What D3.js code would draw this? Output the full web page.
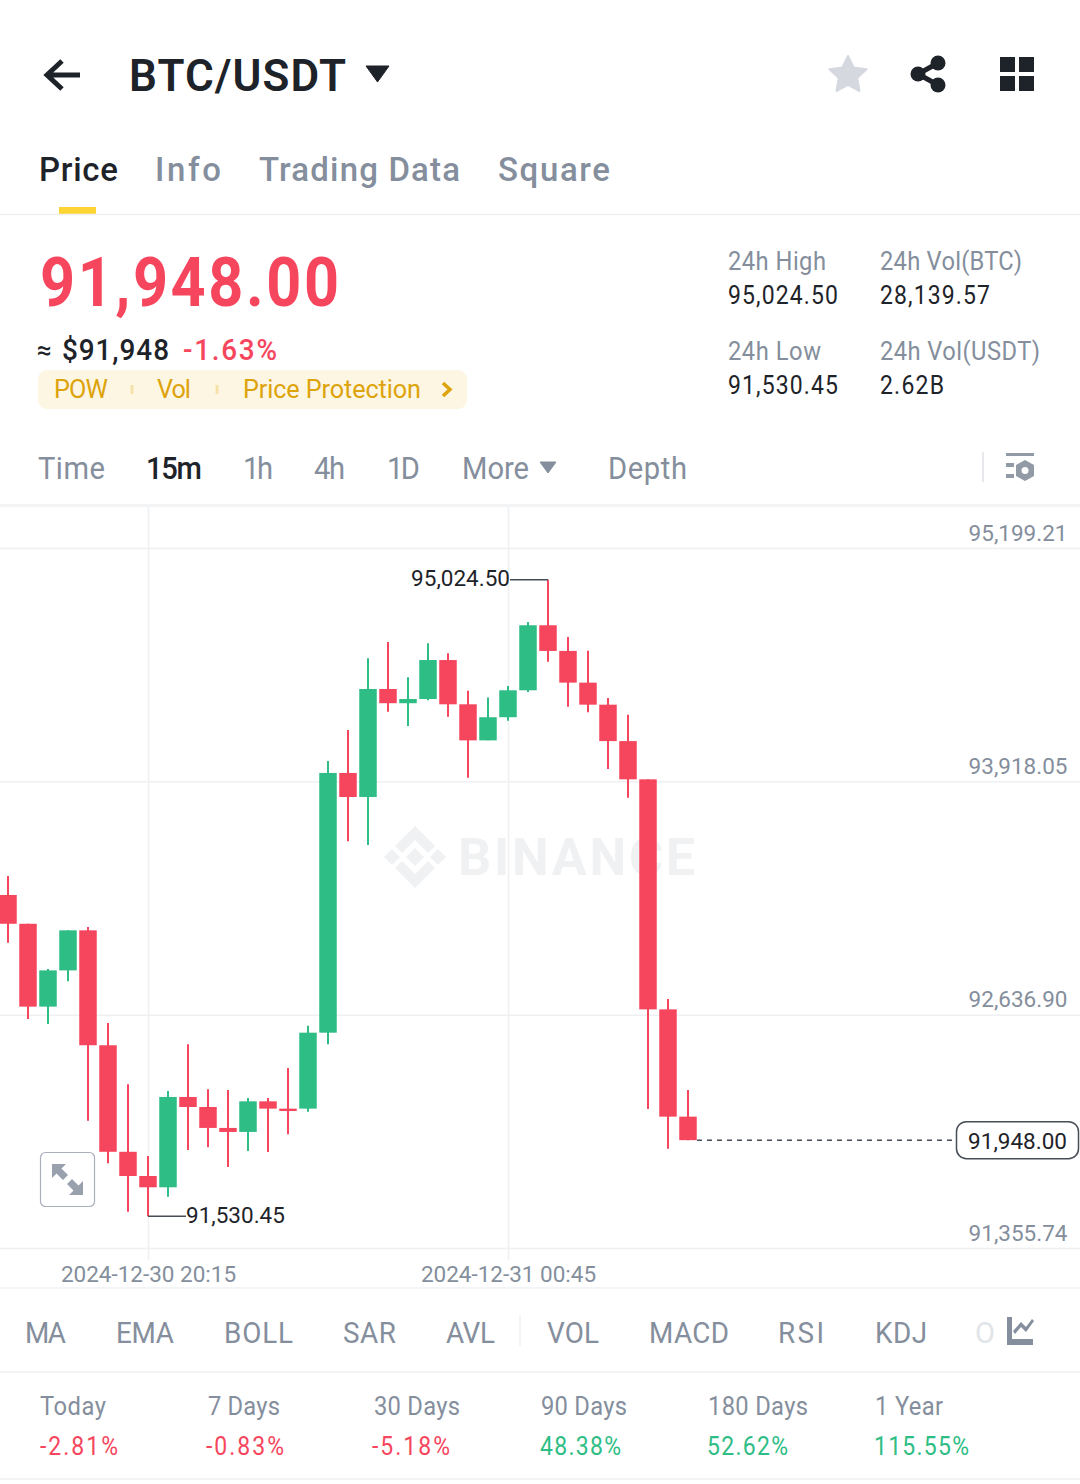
<!DOCTYPE html>
<html>
<head>
<meta charset="utf-8">
<title>BTC/USDT</title>
<script src="https://cdn.jsdelivr.net/npm/d3@7"></script>
<style>
  html, body { margin: 0; padding: 0; background: #fff; }
  svg { display: block; font-family: Roboto, "Noto Sans", sans-serif; }
</style>
</head>
<body>
<div id="chart"></div>
<script>
// 15m candles, first one opens 2024-12-30 18:30
const firstCandle = new Date(2024, 11, 30, 18, 30);
const candleOpen  = [93294, 93136, 92681, 92880, 93100, 92469, 91884, 91751, 91689, 92185, 92130, 92015, 91993, 92161, 92121, 92121, 92538, 93964, 93832, 94425, 94347, 94370, 94584, 94341, 94143, 94270, 94418, 94775, 94634, 94460, 94339, 94139, 93929, 92666, 92077];
const candleHigh  = [93398, 93136, 92888, 93100, 93118, 92591, 92255, 91861, 92218, 92474, 92227, 92223, 92179, 92179, 92344, 92576, 94030, 94200, 94594, 94683, 94489, 94676, 94621, 94416, 94379, 94441, 94793, 95024.5, 94710, 94635, 94376, 94284, 93929, 92723, 92223];
const candleLow   = [93032, 92613, 92586, 92820, 92055, 91821, 91555, 91530.45, 91637, 91894, 91909, 91800, 91888, 91883, 91980, 92104, 92474, 93589, 93568, 94300, 94222, 94363, 94273, 93938, 94143, 94251, 94408, 94575, 94328, 94297, 93986, 93828, 92119, 91901, 91948];
const candleClose = [93136, 92681, 92880, 93100, 92469, 91884, 91751, 91689, 92185, 92130, 92015, 91993, 92161, 92121, 92108, 92538, 93964, 93832, 94425, 94347, 94370, 94584, 94341, 94143, 94270, 94418, 94775, 94634, 94460, 94339, 94139, 93929, 92666, 92077, 91948];

const priceTicks = [95199.21, 93918.05, 92636.90, 91355.74];
const timeTicks = [new Date(2024, 11, 30, 20, 15), new Date(2024, 11, 31, 0, 45)];
const lastPrice = 91948;
const highPrice = 95024.5;
const lowPrice = 91530.45;

// text rows: label, left x, width
const tabLabels = [['Price', 39, 79], ['Info', 155, 66], ['Trading Data', 259, 201], ['Square', 498, 112]];
const pillLabels = [['POW', 54, 54], ['Vol', 157, 34], ['Price Protection', 243, 178]];
const statLabels = [['24h High', 728, 98, 270], ['24h Low', 728, 93, 360], ['24h Vol(BTC)', 880, 142, 270], ['24h Vol(USDT)', 880, 160, 360]];
const statValues = [['95,024.50', 728, 110, 304], ['91,530.45', 728, 110, 394], ['28,139.57', 880, 110, 304], ['2.62B', 880, 64, 394]];
const intervalLabels = [['Time', 38, 67], ['15m', 146, 56], ['1h', 243, 30], ['4h', 314, 31], ['1D', 387, 33], ['More', 462, 67], ['Depth', 608, 79]];
const indicatorLabels = [['MA', 25, 41], ['EMA', 116, 58], ['BOLL', 224, 69], ['SAR', 343, 53], ['AVL', 446, 49], ['VOL', 547, 52], ['MACD', 649, 80], ['RSI', 778, 46], ['KDJ', 875, 52]];
const periodLabels = [['Today', 40, 66], ['7 Days', 208, 72], ['30 Days', 374, 86], ['90 Days', 541, 86], ['180 Days', 708, 100], ['1 Year', 875, 68]];
const periodValues = [['-2.81%', 40, 78], ['-0.83%', 206, 78], ['-5.18%', 372, 78], ['48.38%', 540, 81], ['52.62%', 707, 81], ['115.55%', 874, 95]];

const RED = '#F6465D', GREEN = '#2EBD85', INK = '#1E2329', GREY = '#848E9C', RULE = '#EEF0F2';

const svg = d3.select('#chart').append('svg').attr('width', 1080).attr('height', 1484);
svg.append('rect').attr('width', 1080).attr('height', 1484).attr('fill', '#fff');

// narrow < 1 squeezes the glyphs, the width stays the same (the app font is narrower than Roboto)
function label(text, x, y, size, fill, width, weight, narrow) {
    const sx = narrow || 1;
    const t = svg.append('text').attr('transform', `translate(${narrow ? x : x - 1},${y}) scale(${sx},1)`)
        .attr('font-size', size).attr('fill', fill).attr('font-weight', weight || 400).text(text);
    if (width) t.attr('textLength', width / sx).attr('lengthAdjust', 'spacing');
    return t;
}

function rule(x1, y1, x2, y2, color, w) {
    svg.append('line').attr('x1', x1).attr('y1', y1).attr('x2', x2).attr('y2', y2)
        .attr('stroke', color).attr('stroke-width', w || 1.5);
}

// header
svg.append('path').attr('d', 'M80 75H48M62 61L47 75L62 89').attr('fill', 'none').attr('stroke', INK).attr('stroke-width', 5);
label('BTC/USDT', 130, 91, 44, INK, 217, 600);
svg.append('path').attr('d', 'M366 66H389L377.5 82Z').attr('fill', INK).attr('stroke', INK).attr('stroke-linejoin', 'round').attr('stroke-width', 1);
svg.append('path').attr('d', 'M848 56L853.6 67.5L866.5 69.2L857.2 78L859.5 91L848 84.8L836.5 91L838.8 78L829.5 69.2L842.4 67.5Z')
    .attr('fill', '#D5D9DF').attr('stroke', '#D5D9DF').attr('stroke-linejoin', 'round').attr('stroke-width', 2);
svg.append('path').attr('d', 'M938 63L918 74L938 85').attr('fill', 'none').attr('stroke', INK).attr('stroke-width', 5);
[[938, 63], [918, 74], [938, 85]].forEach(c => svg.append('circle').attr('cx', c[0]).attr('cy', c[1]).attr('r', 7.5).attr('fill', INK));
[[1000, 57], [1019, 57], [1000, 76], [1019, 76]].forEach(c => svg.append('rect').attr('x', c[0]).attr('y', c[1]).attr('width', 15).attr('height', 15).attr('fill', INK));

// tabs
tabLabels.forEach((d, i) => label(d[0], d[1], 181, 34, i === 0 ? INK : GREY, d[2], 500, 0.97));
svg.append('rect').attr('x', 59).attr('y', 207).attr('width', 37).attr('height', 7).attr('fill', '#FCD535');
rule(0, 214.5, 1080, 214.5, '#EEF0F2');

// price block
label('91,948.00', 40, 306, 68, RED, 299, 700, 0.9);
label('≈', 38, 359, 26, INK, null, 500);
label('$91,948', 62, 360, 30, INK, 107, 500, 0.93);
label('-1.63%', 183, 360, 30, RED, 94, 500, 0.93);
svg.append('rect').attr('x', 38).attr('y', 370).attr('width', 429).attr('height', 39).attr('rx', 9).attr('fill', '#FDF6E3');
pillLabels.forEach(d => label(d[0], d[1], 398, 26, '#DDA30B', d[2], 400, 0.97));
[132, 217].forEach(x => rule(x, 385, x, 394, '#F5E2A8', 3));
svg.append('path').attr('d', 'M443 383L450 389.5L443 396').attr('fill', 'none').attr('stroke', '#DDA30B').attr('stroke-width', 3.5);
statLabels.forEach(d => label(d[0], d[1], d[3], 25, GREY, d[2], 400, 0.95));
statValues.forEach(d => label(d[0], d[1], d[3], 25, INK, d[2], 400, 0.92));

// interval row
intervalLabels.forEach((d, i) => label(d[0], d[1], 479, 31, i === 1 ? INK : GREY, d[2], i === 1 ? 500 : 400, 0.94));
svg.append('path').attr('d', 'M540 462H556L548 473Z').attr('fill', GREY).attr('stroke', GREY).attr('stroke-linejoin', 'round');
rule(983, 452, 983, 482, '#E6E8EB', 2);
svg.append('path').attr('d', 'M1006 453H1034V456H1006ZM1006 463H1014V467H1006ZM1006 474H1014V478H1006Z').attr('fill', '#929AA5');
svg.append('path').attr('d', 'M1025 460L1034 465V476L1025 481L1016 476V465Z').attr('fill', '#929AA5');
svg.append('circle').attr('cx', 1025).attr('cy', 470.5).attr('r', 3.5).attr('fill', '#fff');
rule(0, 505.5, 1080, 505.5, '#F3F4F6', 3);

// scales
const y = d3.scaleLinear().domain([priceTicks[3], priceTicks[0]]).range([1248, 548]);
const lastCandle = d3.timeMinute.offset(firstCandle, 15 * (candleOpen.length - 1));
const x = d3.scaleTime().domain([firstCandle, lastCandle]).range([8, 688]);
const candles = candleOpen.map((o, i) => ({
    t: d3.timeMinute.offset(firstCandle, 15 * i),
    open: o, high: candleHigh[i], low: candleLow[i], close: candleClose[i]
}));

// grid and axes
const yAxis = svg.append('g').attr('transform', 'translate(1080,0)')
    .call(d3.axisLeft(y).tickValues(priceTicks).tickSize(1080).tickFormat(d3.format(',.2f')));
yAxis.select('.domain').remove();
yAxis.selectAll('.tick line').attr('stroke', RULE).attr('stroke-width', 1.5);
yAxis.selectAll('.tick text').attr('x', -12.5).attr('dy', -8).attr('text-anchor', 'end')
    .attr('font-size', 22.5).attr('font-family', 'Roboto').attr('fill', GREY);

const xAxis = svg.append('g').attr('transform', 'translate(0,1260)')
    .call(d3.axisBottom(x).tickValues(timeTicks).tickSize(-753).tickPadding(0).tickFormat(d3.timeFormat('%Y-%m-%d %H:%M')));
xAxis.select('.domain').remove();
xAxis.selectAll('.tick line').attr('stroke', RULE).attr('stroke-width', 1.5);
xAxis.selectAll('.tick text').attr('y', 22).attr('dy', 0).attr('font-size', 22.5)
    .attr('font-family', 'Roboto').attr('fill', GREY);

// watermark sits behind the candles
const mark = svg.append('g').attr('fill', '#F0F1F3');
mark.append('path').attr('d', 'M415 826L435 846L428 853L415 840L402 853L395 846ZM415 888L395 868L402 861L415 874L428 861L435 868ZM384 857L392 849L400 857L392 865ZM430 857L438 849L446 857L438 865ZM415 848L424 857L415 866L406 857Z');
mark.append('text').attr('x', 458).attr('y', 875).attr('font-size', 52).attr('font-weight', 700)
    .attr('textLength', 237).attr('lengthAdjust', 'spacing').text('BINANCE');

// candles
const candle = svg.append('g').selectAll('g').data(candles).join('g')
    .attr('fill', d => d.close >= d.open ? GREEN : RED)
    .attr('stroke', d => d.close >= d.open ? GREEN : RED);
candle.append('line')
    .attr('x1', d => x(d.t)).attr('x2', d => x(d.t))
    .attr('y1', d => y(d.high)).attr('y2', d => y(d.low))
    .attr('stroke-width', 2);
candle.append('rect')
    .attr('x', d => x(d.t) - 8.75).attr('width', 17.5)
    .attr('y', d => y(Math.max(d.open, d.close)))
    .attr('height', d => Math.max(1, Math.abs(y(d.open) - y(d.close))))
    .attr('stroke', 'none');

// high / low callouts
const highCandle = candles[candleHigh.indexOf(highPrice)];
const lowCandle = candles[candleLow.indexOf(lowPrice)];
rule(x(highCandle.t) - 38, y(highPrice), x(highCandle.t), y(highPrice), '#474D57', 1.5);
label(d3.format(',.2f')(highPrice), x(highCandle.t) - 37, y(highPrice) + 6, 22.5, INK).attr('text-anchor', 'end');
rule(x(lowCandle.t), y(lowPrice), x(lowCandle.t) + 38, y(lowPrice), '#474D57', 1.5);
label(d3.format(',.2f')(lowPrice), x(lowCandle.t) + 39, y(lowPrice) + 7, 22.5, INK);

// last price line and box
svg.append('line').attr('x1', x(candles[candles.length - 1].t) + 9).attr('x2', 953)
    .attr('y1', y(lastPrice)).attr('y2', y(lastPrice))
    .attr('stroke', '#474D57').attr('stroke-width', 1.5).attr('stroke-dasharray', '5 5');
svg.append('rect').attr('x', 956.5).attr('y', y(lastPrice) - 18.5).attr('width', 122).attr('height', 37).attr('rx', 10)
    .attr('fill', '#fff').attr('stroke', '#474D57').attr('stroke-width', 1.5);
label(d3.format(',.2f')(lastPrice), 1068, y(lastPrice) + 9, 22.5, INK).attr('text-anchor', 'end');

// expand button
svg.append('rect').attr('x', 40.5).attr('y', 1152.5).attr('width', 54).attr('height', 54).attr('rx', 5)
    .attr('fill', '#fff').attr('stroke', '#A9B0BC').attr('stroke-width', 1.2);
svg.append('path').attr('d', 'M52 1164H66L61.5 1168.5L68 1175L63 1180L56.5 1173.5L52 1178ZM83 1195H69L73.5 1190.5L67 1184L72 1179L78.5 1185.5L83 1181Z').attr('fill', '#9AA1AE');

// bottom rows
rule(0, 1288, 1080, 1288, '#EEF0F2');
indicatorLabels.forEach(d => label(d[0], d[1], 1343, 29, GREY, d[2], 400, 0.96));
rule(520, 1316, 520, 1346, '#EEF0F2');
label('O', 976, 1343, 29, '#E1E4E8');
svg.append('path').attr('d', 'M1007 1317H1012V1339H1033V1345H1007ZM1013 1331L1021 1322L1026 1327L1032 1319L1034 1321L1026 1332L1021 1327L1015 1334Z').attr('fill', GREY);
rule(0, 1372, 1080, 1372, '#EEF0F2');
periodLabels.forEach(d => label(d[0], d[1], 1415, 25, GREY, d[2], 400, 0.95));
periodValues.forEach(d => label(d[0], d[1], 1455, 25, d[0][0] === '-' ? RED : GREEN, d[2], 400, 0.92));
rule(0, 1479, 1080, 1479, '#EEF0F2');
</script>
</body>
</html>
